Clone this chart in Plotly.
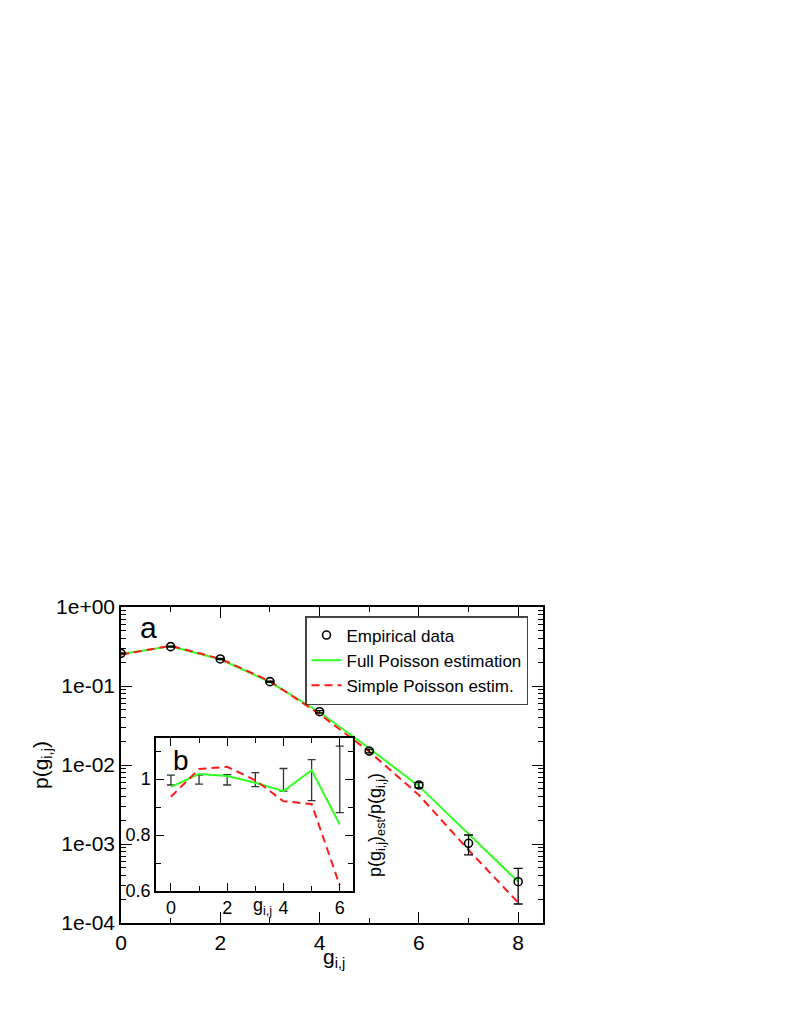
import plotly.graph_objects as go

# main panel (a): distribution of g_ij on log scale
g = [0, 1, 2, 3, 4, 5, 6, 7, 8]
p_emp = [0.259, 0.315, 0.220, 0.1135, 0.0473, 0.0150, 0.00558, 0.00102, 0.000333]
p_emp_err_hi = [0.004, 0.005, 0.004, 0.002, 0.0015, 0.0008, 0.0004, 0.00028, 0.000159]
p_emp_err_lo = [0.004, 0.005, 0.004, 0.002, 0.0015, 0.0008, 0.0004, 0.00029, 0.000159]
p_full = [0.254, 0.318, 0.218, 0.112, 0.0465, 0.0163, 0.0054, 0.00133, 0.000334]
p_simple = [0.250, 0.322, 0.221, 0.115, 0.0440, 0.0148, 0.00417, 0.00084, 0.000181]

y_tickvals = [1e-4, 1e-3, 1e-2, 1e-1, 1]
y_ticktext = ["1e-04", "1e-03", "1e-02", "1e-01", "1e+00"]
x_tickvals = [0, 2, 4, 6, 8]

# inset (b): ratio estimate / empirical
g_in = [0, 1, 2, 3, 4, 5, 6]
ratio_one = [1, 1, 1, 1, 1, 1, 1]
ratio_err_hi = [0.014, 0.014, 0.016, 0.023, 0.038, 0.070, 0.118]
ratio_err_lo = [0.021, 0.018, 0.021, 0.027, 0.043, 0.077, 0.120]
ratio_full = [0.972, 1.018, 1.011, 0.987, 0.957, 1.032, 0.838]
ratio_simple = [0.937, 1.036, 1.044, 0.996, 0.921, 0.911, 0.620]

in_x_tickvals = [0, 2, 4, 6]
in_y_tickvals = [0.6, 0.8, 1.0]
in_y_ticktext = ["0.6", "0.8", "1"]

W, H = 789, 1021
OFF = 8  # default page margin of the html body
FONT = "Arial, Liberation Sans, sans-serif"
GREEN = "#33ff22"
RED = "#ff1a1a"


# page pixel -> paper fraction
def px(x):
    return (x - OFF) / W


def py(y):
    return 1 - (y - OFF) / H


def label(text, x, y, size, angle=0):
    return dict(text=text, x=px(x), y=py(y), xref="paper", yref="paper",
                xanchor="center", yanchor="middle", showarrow=False,
                textangle=angle, font=dict(size=size))


fig = go.Figure()

# main traces
fig.add_trace(go.Scatter(x=g, y=p_full, mode="lines", name="Full Poisson estimation",
                         line=dict(color=GREEN, width=2), legendrank=2,
                         xaxis="x", yaxis="y"))
fig.add_trace(go.Scatter(x=g, y=p_simple, mode="lines", name="Simple Poisson estim.",
                         line=dict(color=RED, width=2, dash="8px,5px"), legendrank=3,
                         xaxis="x", yaxis="y"))
fig.add_trace(go.Scatter(x=g, y=p_emp, mode="markers", name="Empirical data",
                         marker=dict(symbol="circle-open", size=8, color="black",
                                     line=dict(width=1.6)),
                         error_y=dict(type="data", array=p_emp_err_hi, arrayminus=p_emp_err_lo,
                                      color="black", thickness=1.3, width=4.5),
                         legendrank=1, xaxis="x", yaxis="y"))

# inset traces
fig.add_trace(go.Scatter(x=g_in, y=ratio_one, mode="markers", showlegend=False,
                         marker=dict(size=1, color="rgba(0,0,0,0)"),
                         error_y=dict(type="data", array=ratio_err_hi, arrayminus=ratio_err_lo,
                                      color="#333333", thickness=1.3, width=4),
                         xaxis="x2", yaxis="y2"))
fig.add_trace(go.Scatter(x=g_in, y=ratio_full, mode="lines", showlegend=False,
                         line=dict(color=GREEN, width=2), xaxis="x2", yaxis="y2"))
fig.add_trace(go.Scatter(x=g_in, y=ratio_simple, mode="lines", showlegend=False,
                         line=dict(color=RED, width=2, dash="8px,5px"), xaxis="x2", yaxis="y2"))

axis_common = dict(showline=True, linecolor="black", linewidth=1.5, mirror="allticks",
                   ticks="inside", tickcolor="black", showgrid=False, zeroline=False,
                   automargin=False)

fig.update_layout(
    width=W, height=H,
    margin=dict(l=0, r=0, t=0, b=0, autoexpand=False),
    paper_bgcolor="white", plot_bgcolor="white",
    font=dict(family=FONT, color="black", size=20),
    xaxis=dict(domain=[px(121), px(543)], range=[0, 8.5], tickvals=x_tickvals,
               ticklen=11, tickwidth=1.2, tickfont=dict(size=21),
               minor=dict(dtick=1, ticks="inside", ticklen=5, tickcolor="black", showgrid=False),
               anchor="y", **axis_common),
    yaxis=dict(domain=[py(923), py(607)], type="log", range=[-4, 0],
               tickvals=y_tickvals, ticktext=y_ticktext, ticklen=11, tickwidth=1.2,
               tickfont=dict(size=21),
               minor=dict(dtick="D1", ticks="inside", ticklen=5, tickcolor="black", showgrid=False),
               anchor="x", **axis_common),
    xaxis2=dict(domain=[px(156), px(353)], range=[-0.53, 6.47], tickvals=in_x_tickvals,
                ticklen=8, tickwidth=1.2, tickfont=dict(size=18),
                minor=dict(dtick=1, ticks="inside", ticklen=5, tickcolor="black", showgrid=False),
                anchor="y2", **axis_common),
    yaxis2=dict(domain=[py(891), py(738)], range=[0.6, 1.147], tickvals=in_y_tickvals,
                ticktext=in_y_ticktext, ticklen=8, tickwidth=1.2, tickfont=dict(size=18),
                minor=dict(dtick=0.1, tick0=0.6, ticks="inside", ticklen=5, tickcolor="black",
                           showgrid=False),
                anchor="x2", **axis_common),
    legend=dict(x=px(305), y=py(616), xanchor="left", yanchor="top",
                bordercolor="#444444", borderwidth=1.5, bgcolor="white",
                font=dict(size=17), tracegroupgap=0, itemwidth=30),
    shapes=[dict(type="line", xref="x2 domain", yref="y2", x0=0, x1=1, y0=1, y1=1,
                 line=dict(color="#777777", width=1.5), layer="below")],
    annotations=[
        label("a", 148, 627, 30),
        label("b", 181, 760, 28),
        label("g<sub>i,j</sub>", 334, 958, 21),
        label("p(g<sub>i,j</sub>)", 42, 765, 21, -90),
        label("g<sub>i,j</sub>", 262, 906, 18),
        label("p(g<sub>i,j</sub>)<sub>est</sub>/p(g<sub>i,j</sub>)", 376, 825, 18, -90),
    ],
)

fig.write_html("out.html")
